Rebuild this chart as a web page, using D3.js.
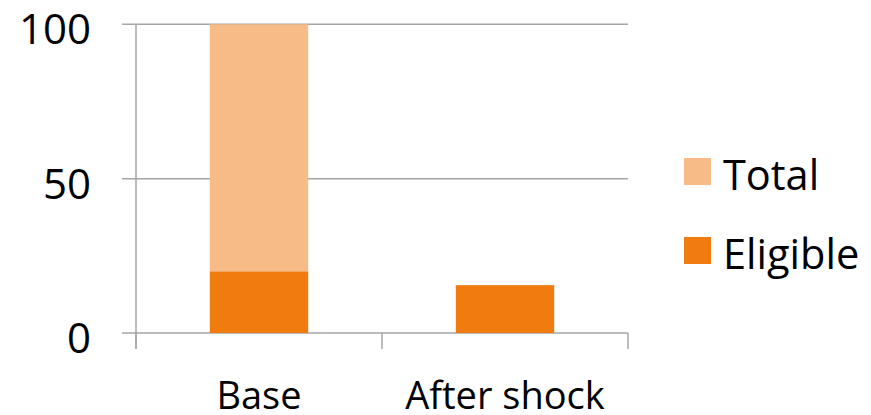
<!DOCTYPE html>
<html>
<head>
<meta charset="utf-8">
<script src="https://cdn.jsdelivr.net/npm/d3@7"></script>
<style>
  html, body { margin: 0; padding: 0; background: #fff; }
  svg { display: block; }
  text { font-family: "Open Sans", "Noto Sans", sans-serif; fill: #000; }
</style>
</head>
<body>
<svg id="chart" width="871" height="415"></svg>
<script>
const categories = ["Base", "After shock"];
const eligible = [20, 15.5];
const total = [80, 0];
const seriesNames = ["Eligible", "Total"];
const yTicks = [0, 50, 100];
const legendOrder = ["Total", "Eligible"];

(function () {
const colors = { Eligible: "#F07B0E", Total: "#F7BB87" };

const svg = d3.select("#chart");
const plotLeft = 136, plotRight = 628, plotTop = 24.3, plotBottom = 333;

const x = d3.scaleBand().domain(categories).range([plotLeft, plotRight])
  .paddingInner(0.6).paddingOuter(0.3);
const y = d3.scaleLinear().domain([0, 100]).range([plotBottom, plotTop]);

const rows = categories.map((c, i) => ({ cat: c, Eligible: eligible[i], Total: total[i] }));
const stacked = d3.stack().keys(seriesNames)(rows);

const gridColor = "#A6A6A6";

// gridlines (with left tick extension)
svg.append("g").selectAll("line").data(yTicks).join("line")
  .attr("x1", plotLeft - 14).attr("x2", plotRight)
  .attr("y1", d => y(d)).attr("y2", d => y(d))
  .attr("stroke", gridColor).attr("stroke-width", 1.5);

// y axis line
svg.append("line").attr("x1", plotLeft).attr("x2", plotLeft)
  .attr("y1", y(100)).attr("y2", plotBottom + 16)
  .attr("stroke", gridColor).attr("stroke-width", 1.5);

// x category boundary ticks
const boundaries = [plotLeft, ...categories.slice(1).map(c => x(c) - x.step() * x.paddingInner() / 2), plotRight];
svg.append("g").selectAll("line").data(boundaries).join("line")
  .attr("x1", d => d).attr("x2", d => d)
  .attr("y1", plotBottom).attr("y2", plotBottom + 16)
  .attr("stroke", gridColor).attr("stroke-width", 1.5);

// bars
svg.append("g").selectAll("g").data(stacked).join("g")
  .attr("fill", d => colors[d.key])
  .selectAll("rect").data(d => d).join("rect")
  .attr("x", d => x(d.data.cat))
  .attr("width", x.bandwidth())
  .attr("y", d => y(d[1]))
  .attr("height", d => Math.max(0, y(d[0]) - y(d[1])));

// y labels
svg.append("g").selectAll("text").data(yTicks).join("text")
  .attr("x", 91).attr("y", d => y(d) + 20)
  .attr("text-anchor", "end").attr("font-size", 42)
  .text(d => d);

// x labels
svg.append("g").selectAll("text").data(categories).join("text")
  .attr("x", d => x(d) + x.bandwidth() / 2).attr("y", 409)
  .attr("text-anchor", "middle").attr("font-size", 38)
  .text(d => d);

// legend
const lg = svg.append("g").selectAll("g").data(legendOrder).join("g")
  .attr("transform", (d, i) => `translate(684, ${158 + i * 79})`);
lg.append("rect").attr("width", 27).attr("height", 27).attr("fill", d => colors[d]);
lg.append("text").attr("x", 39).attr("y", 32).attr("font-size", 41.5).text(d => d);
})();
</script>
</body>
</html>
